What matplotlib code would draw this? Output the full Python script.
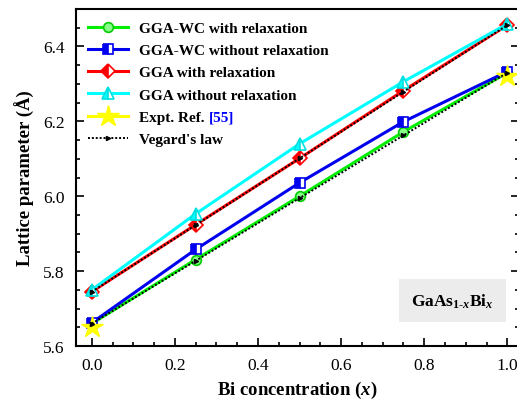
import matplotlib
matplotlib.use("Agg")
import matplotlib.pyplot as plt
from matplotlib.lines import Line2D
from matplotlib.ticker import MultipleLocator

plt.rcParams["font.family"] = ["Liberation Serif", "DejaVu Serif"]
plt.rcParams["mathtext.fontset"] = "custom"
plt.rcParams["mathtext.rm"] = "Liberation Serif:bold"
plt.rcParams["mathtext.it"] = "Liberation Serif:italic:bold"
plt.rcParams["mathtext.bf"] = "Liberation Serif:bold"

# Bi concentration
x = [0.0, 0.25, 0.5, 0.75, 1.0]

gga_wc_relax = [5.660, 5.831, 6.000, 6.172, 6.330]
gga_wc_norelax = [5.662, 5.858, 6.036, 6.199, 6.333]
gga_relax = [5.745, 5.924, 6.101, 6.282, 6.457]
gga_norelax = [5.750, 5.953, 6.140, 6.306, 6.460]

expt_x = [0.0, 1.0]
expt = [5.651, 6.322]

# Vegard's law between the end members
vegard_x = [0.0, 0.25, 0.5, 0.75, 1.0]
vegard_wc = [5.660, 5.8275, 5.995, 6.1625, 6.330]
vegard_gga = [5.745, 5.923, 6.101, 6.279, 6.457]

fig = plt.figure(figsize=(5.17, 4.02), dpi=100)
ax = fig.add_axes([76 / 517, 55 / 402, 443 / 517, 337 / 402])

lw = 2.2
ax.plot(x, gga_wc_relax, color="#00ee00", lw=lw, marker="o", ms=7,
        mfc="#88ff88", mec="#00cc00", mew=1.2, label="GGA-WC with relaxation")
ax.plot(x, gga_wc_norelax, color="#0000ee", lw=lw, marker="s", ms=7,
        fillstyle="left", mfc="#0000ee", mfcalt="white", mec="#0000ee", mew=1.2,
        label="GGA-WC without relaxation")
ax.plot(x, gga_relax, color="#ff0000", lw=lw, marker="D", ms=7,
        fillstyle="left", mfc="#ff0000", mfcalt="white", mec="#ff0000", mew=1.2,
        label="GGA with relaxation")
ax.plot(x, gga_norelax, color="#00ffff", lw=lw, marker="^", ms=8,
        fillstyle="left", mfc="#00ffff", mfcalt="white", mec="#00e0e0", mew=1.2,
        label="GGA without relaxation")
ax.plot(expt_x, expt, color="#ffff00", lw=lw, ls="none", marker="*", ms=16,
        mec="#ffff00", label="Expt. Ref. ")
ax.plot(vegard_x, vegard_wc, color="black", lw=1.4, ls=(0, (1, 1)),
        marker=">", ms=3, label="Vegard's law")
ax.plot(vegard_x, vegard_gga, color="black", lw=1.4, ls=(0, (1, 1)),
        marker=">", ms=3)

# legend entry for the star gets a yellow line through it
handles, labels = ax.get_legend_handles_labels()
handles[4] = Line2D([], [], color="#ffff00", lw=lw, marker="*", ms=16,
                    mec="#ffff00")

leg = ax.legend(handles, labels, loc="upper left", frameon=False,
                prop={"weight": "bold", "size": 11}, handlelength=2.6,
                handletextpad=0.75, labelspacing=0.56,
                bbox_to_anchor=(0.0, 1.0), borderaxespad=0.4)

# blue reference number after the expt. label
fig.canvas.draw()
bb = leg.get_texts()[4].get_window_extent()
fx, fy = fig.transFigure.inverted().transform((bb.x1, bb.y0))
fig.text(fx, fy, "[55]", color="#0000ff", fontweight="bold", fontsize=11,
         va="bottom", ha="left", transform=fig.transFigure)

ax.set_xlim(-0.038, 1.028)
ax.set_ylim(5.6, 6.5)
ax.xaxis.set_major_locator(MultipleLocator(0.2))
ax.xaxis.set_minor_locator(MultipleLocator(0.05))
ax.yaxis.set_major_locator(MultipleLocator(0.2))
ax.yaxis.set_minor_locator(MultipleLocator(0.05))
ax.xaxis.set_major_formatter(plt.FormatStrFormatter("%.1f"))
ax.yaxis.set_major_formatter(plt.FormatStrFormatter("%.1f"))
ax.tick_params(which="both", direction="in", right=True, top=False,
               labelsize=12.5, width=1.2)
ax.tick_params(which="major", length=6, pad=8)
ax.tick_params(which="minor", length=3)
for sp in ax.spines.values():
    sp.set_linewidth(1.5)

ax.set_xlabel(r"Bi concentration ($\mathit{x}$)", fontsize=13.5, fontweight="bold",
              labelpad=4)
ax.set_ylabel("Lattice parameter (Å)", fontsize=13.5, fontweight="bold",
              labelpad=6)

ax.text(0.85, 0.134, r"GaAs$_{\mathrm{1\text{-}}\mathit{x}}$Bi$_{\mathit{x}}$",
        transform=ax.transAxes, ha="center", va="center", fontsize=12.5,
        fontweight="bold",
        bbox=dict(boxstyle="square,pad=0.7", fc="#ececec", ec="none"))

fig.savefig("out.png", dpi=100)
